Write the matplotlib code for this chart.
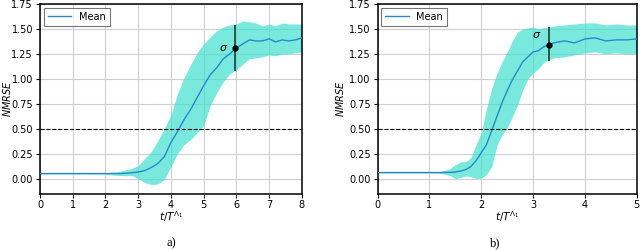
import numpy as np
import matplotlib
matplotlib.use('Agg')
import matplotlib.pyplot as plt

# panel a)
t_a = [0, 0.5, 1.0, 1.5, 2.0, 2.2, 2.4, 2.6, 2.8, 3.0, 3.2, 3.4, 3.6, 3.8, 4.0,
       4.2, 4.4, 4.6, 4.8, 5.0, 5.2, 5.4, 5.6, 5.8, 6.0, 6.2, 6.4, 6.6, 6.8,
       7.0, 7.2, 7.4, 7.6, 7.8, 8.0]
mean_a = [0.05, 0.05, 0.05, 0.05, 0.05, 0.05, 0.05, 0.052, 0.058, 0.065, 0.08,
          0.11, 0.15, 0.22, 0.36, 0.47, 0.59, 0.69, 0.81, 0.93, 1.04, 1.11,
          1.20, 1.25, 1.31, 1.35, 1.39, 1.38, 1.38, 1.40, 1.37, 1.39, 1.38,
          1.39, 1.41]
lo_a = [0.045, 0.045, 0.045, 0.045, 0.043, 0.035, 0.03, 0.028, 0.03, 0.0,
        -0.04, -0.06, -0.055, -0.01, 0.12, 0.25, 0.34, 0.39, 0.46, 0.53, 0.73,
        0.86, 0.97, 1.05, 1.09, 1.15, 1.20, 1.21, 1.22, 1.24, 1.23, 1.25,
        1.25, 1.26, 1.27]
hi_a = [0.055, 0.055, 0.055, 0.055, 0.057, 0.063, 0.07, 0.085, 0.10, 0.13,
        0.20, 0.27, 0.38, 0.50, 0.64, 0.85, 1.01, 1.14, 1.26, 1.35, 1.42, 1.48,
        1.52, 1.54, 1.55, 1.58, 1.57, 1.56, 1.53, 1.55, 1.53, 1.56, 1.55,
        1.55, 1.55]
sig_a = (5.95, 1.31, 1.08, 1.54)  # x, mean, low, high
sig_txt_a = (5.62, 1.31)

# panel b)
t_b = [0, 0.5, 1.0, 1.2, 1.4, 1.5, 1.6, 1.7, 1.8, 1.9, 2.0, 2.1, 2.2, 2.3, 2.4,
       2.5, 2.6, 2.7, 2.8, 2.9, 3.0, 3.1, 3.2, 3.3, 3.4, 3.6, 3.8, 4.0, 4.2,
       4.4, 4.6, 4.8, 5.0]
mean_b = [0.06, 0.06, 0.06, 0.06, 0.062, 0.065, 0.075, 0.09, 0.12, 0.18, 0.26,
          0.34, 0.48, 0.62, 0.76, 0.88, 0.99, 1.08, 1.17, 1.22, 1.27, 1.28,
          1.32, 1.34, 1.36, 1.38, 1.36, 1.40, 1.41, 1.38, 1.39, 1.39, 1.40]
lo_b = [0.055, 0.055, 0.055, 0.053, 0.03, 0.0, 0.01, 0.025, 0.02, 0.0, 0.005,
        0.04, 0.12, 0.33, 0.44, 0.51, 0.62, 0.74, 0.89, 1.00, 1.06, 1.10,
        1.16, 1.19, 1.21, 1.22, 1.24, 1.26, 1.27, 1.25, 1.26, 1.25, 1.25]
hi_b = [0.065, 0.065, 0.065, 0.067, 0.10, 0.14, 0.165, 0.17, 0.21, 0.34, 0.46,
        0.70, 0.90, 1.05, 1.17, 1.27, 1.38, 1.47, 1.50, 1.51, 1.52, 1.50,
        1.51, 1.52, 1.53, 1.54, 1.55, 1.56, 1.56, 1.54, 1.55, 1.54, 1.54]
sig_b = (3.3, 1.34, 1.18, 1.52)
sig_txt_b = (3.06, 1.44)

plt.rcParams['font.size'] = 7
fig = plt.figure(figsize=(6.4, 2.5), dpi=100)
ax1 = fig.add_axes([0.0625, 0.226, 0.409, 0.758])
ax2 = fig.add_axes([0.590, 0.226, 0.405, 0.758])

panels = [(ax1, t_a, mean_a, lo_a, hi_a, sig_a, sig_txt_a, 8),
          (ax2, t_b, mean_b, lo_b, hi_b, sig_b, sig_txt_b, 5)]

for ax, t, m, lo, hi, sg, st, xmax in panels:
    ax.fill_between(t, lo, hi, color='turquoise', alpha=0.7, linewidth=0, zorder=2)
    ax.plot(t, m, color='#2b88c6', linewidth=1.0, label='Mean', zorder=3)
    ax.axhline(0.5, color='black', linestyle='--', linewidth=0.8, zorder=3)
    ax.vlines(sg[0], sg[2], sg[3], color='#2f5550', linewidth=1.4, zorder=4)
    ax.plot(sg[0], sg[1], 'o', color='black', markersize=3.5, zorder=5)
    ax.text(st[0], st[1], r'$\sigma$', fontsize=8, ha='center', va='center', zorder=5)
    ax.set_xlim(0, xmax)
    ax.set_ylim(-0.15, 1.75)
    ax.set_yticks(np.arange(0, 1.76, 0.25))
    ax.set_xticks(range(0, xmax + 1))
    ax.tick_params(length=3, width=0.8, pad=2, labelsize=7)
    ax.grid(True, color='#d0d0d0', linewidth=0.8, zorder=0)
    ax.set_axisbelow(True)
    for s in ax.spines.values():
        s.set_linewidth(1.1)
    ax.set_xlabel(r'$t/T^{\Lambda_1}$', fontsize=7.5, labelpad=-1)
    ax.set_ylabel(r'$NMRSE$', fontsize=7)
    leg = ax.legend(loc='upper left', fontsize=7, fancybox=False,
                    edgecolor='#555555', handlelength=2.4, borderpad=0.4,
                    borderaxespad=0.4)
    leg.get_frame().set_linewidth(0.8)

ax1.yaxis.set_label_coords(-0.105, 0.5)
ax2.yaxis.set_label_coords(-0.12, 0.5)

fig.text(0.268, 0.028, 'a)', fontsize=9, family='Liberation Serif', ha='center', va='center')
fig.text(0.774, 0.028, 'b)', fontsize=9, family='Liberation Serif', ha='center', va='center')

fig.savefig('out.png', dpi=100)
